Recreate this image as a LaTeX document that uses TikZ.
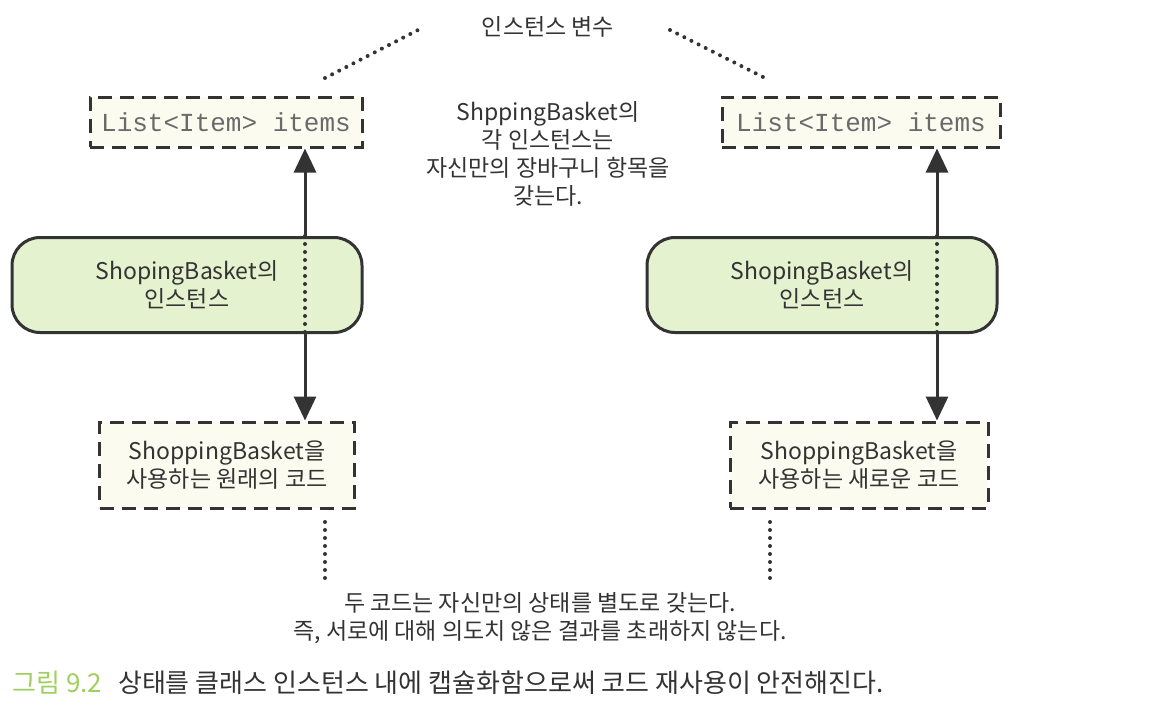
\documentclass[tikz,border=0pt]{standalone}
\usepackage{fontspec}
\setmainfont{Noto Sans CJK KR}
\newfontfamily\codefont{Liberation Mono}
\usepackage{tikz}
\usetikzlibrary{arrows.meta,positioning}
\usepackage{xcolor}
\definecolor{ink}{HTML}{333333}
\definecolor{instfill}{HTML}{E4F2CF}
\definecolor{boxfill}{HTML}{FBFBEF}
\definecolor{codegray}{HTML}{6A6A6A}
\definecolor{figgreen}{HTML}{9FCF5F}

\begin{document}
\begin{tikzpicture}[x=0.5pt,y=-0.5pt,
	txt/.style={text=ink,align=center,font=\fontsize{11.5}{14}\selectfont},
	varbox/.style={draw=ink,fill=boxfill,line width=1.5pt,dash pattern=on 7pt off 4pt,inner sep=0pt,font=\codefont\fontsize{13}{15}\selectfont,text=codegray},
	instbox/.style={txt,draw=ink,fill=instfill,line width=1.5pt,rounded corners=14pt,inner sep=0pt},
	codebox/.style={txt,draw=ink,fill=boxfill,line width=1.5pt,dash pattern=on 7pt off 4pt,inner sep=0pt},
	arr/.style={draw=ink,line width=1.5pt,-{Triangle[width=11pt,length=12pt]}},
	dots/.style={draw=ink,line width=2pt,line cap=round,dash pattern=on 0pt off 4pt}]
	\useasboundingbox (0,0) rectangle (1152,724);
	% variables
	\node[varbox,minimum width=136pt,minimum height=25pt] (var1) at (226,122) {List<Item> items};
	\node[varbox,minimum width=139pt,minimum height=25pt] (var2) at (861,122) {List<Item> items};
	\node[txt] (varlab) at (548,27) {인스턴스 변수};
	\node[txt] (note) at (548,154) {ShppingBasket의\\각 인스턴스는\\자신만의 장바구니 항목을\\갖는다.};
	% instances
	\node[instbox,minimum width=175pt,minimum height=47.5pt] (inst1) at (187,285) {ShopingBasket의\\인스턴스};
	\node[instbox,minimum width=175pt,minimum height=47.5pt] (inst2) at (822,285) {ShopingBasket의\\인스턴스};
	% code
	\node[codebox,minimum width=127.5pt,minimum height=43pt] (code1) at (227,465) {ShoppingBasket을\\사용하는 원래의 코드};
	\node[codebox,minimum width=129pt,minimum height=43pt] (code2) at (859,465) {ShoppingBasket을\\사용하는 새로운 코드};
	\node[txt] (result) at (540,618) {두 코드는 자신만의 상태를 별도로 갖는다.\\즉, 서로에 대해 의도치 않은 결과를 초래하지 않는다.};
	\node[anchor=west,inner sep=0pt,font=\fontsize{13}{15}\selectfont] (cap) at (12,683) {\textcolor{figgreen}{그림 9.2}\hspace{8pt}\textcolor{ink}{상태를 클래스 인스턴스 내에 캡슐화함으로써 코드 재사용이 안전해진다.}};

	\coordinate (a1) at (305,0);
	\coordinate (a2) at (937,0);
	\draw[arr] (inst1.north -| a1) -- (var1.south -| a1);
	\draw[arr] (inst1.south -| a1) -- (code1.north -| a1);
	\draw[dots] (inst1.north -| a1) -- (inst1.south -| a1);
	\draw[arr] (inst2.north -| a2) -- (var2.south -| a2);
	\draw[arr] (inst2.south -| a2) -- (code2.north -| a2);
	\draw[dots] (inst2.north -| a2) -- (inst2.south -| a2);

	\coordinate (t1) at (325,78);
	\coordinate (t2) at (418,30);
	\coordinate (t3) at (670,30);
	\coordinate (t4) at (765,78);
	\draw[dots] (t1) -- (t2);
	\draw[dots] (t3) -- (t4);
	\coordinate (b1) at (325,522);
	\coordinate (b2) at (770,522);
	\draw[dots] (b1) -- (b1 |- result.north);
	\draw[dots] (b2) -- (b2 |- result.north);
\end{tikzpicture}
\end{document}
